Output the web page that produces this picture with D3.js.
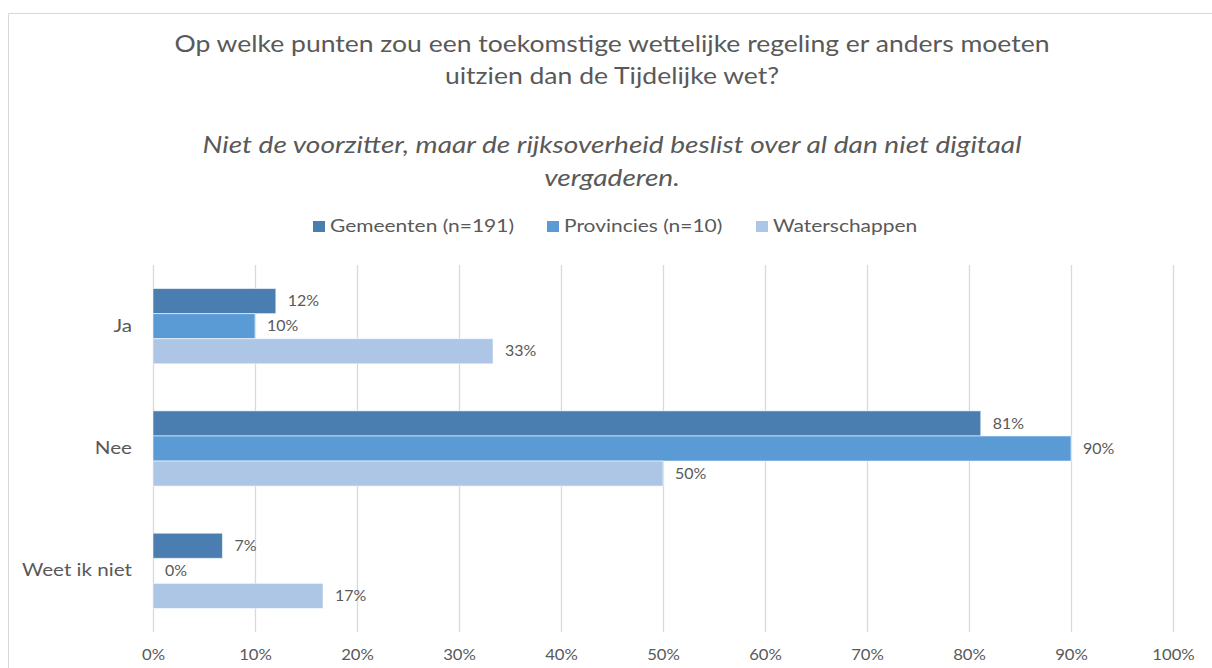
<!DOCTYPE html>
<html>
<head>
<meta charset="utf-8">
<script src="https://cdn.jsdelivr.net/npm/d3@7"></script>
<style>
  html, body { margin: 0; padding: 0; background: #fff; }
  svg { display: block; font-family: Lato, "Open Sans", sans-serif; }
</style>
</head>
<body>
<svg id="chart" width="1212" height="668"></svg>
<script>
// Survey answers per category
const categories = ["Ja", "Nee", "Weet ik niet"];
const seriesNames = ["Gemeenten (n=191)", "Provincies (n=10)", "Waterschappen"];
const gemeenten = [23 / 191 * 100, 155 / 191 * 100, 13 / 191 * 100];
const provincies = [10, 90, 0];
const waterschappen = [100 / 3, 50, 100 / 6];
const seriesColors = ["#4a7eb0", "#5b9bd5", "#adc6e6"];
const tickValues = [0, 10, 20, 30, 40, 50, 60, 70, 80, 90, 100];

const titleLines = [
  "Op welke punten zou een toekomstige wettelijke regeling er anders moeten",
  "uitzien dan de Tijdelijke wet?"
];
const subtitleLines = [
  "Niet de voorzitter, maar de rijksoverheid beslist over al dan niet digitaal",
  "vergaderen."
];

const series = [gemeenten, provincies, waterschappen];
const svg = d3.select("#chart");
const textColor = "#595959";
const gridColor = "#d9d9d9";

// Widen a group of labels horizontally by a common factor.
// If a target width is given, the factor is taken from the first label.
function widen(selection, factorOrTarget, isTarget) {
  const nodes = selection.nodes();
  let k = factorOrTarget;
  if (isTarget) k = factorOrTarget / nodes[0].getComputedTextLength();
  nodes.forEach(n => {
    const w = n.getComputedTextLength();
    if (w > 0) {
      n.setAttribute("textLength", w * k);
      n.setAttribute("lengthAdjust", "spacingAndGlyphs");
    }
  });
}

// chart area frame
svg.append("path")
  .attr("d", "M8.5,668 V13.5 H1212")
  .attr("fill", "none")
  .attr("stroke", gridColor)
  .attr("stroke-width", 1);

const plot = { left: 153, right: 1173, top: 265, bottom: 632 };

const x = d3.scaleLinear().domain([0, 100]).range([plot.left, plot.right]);
const y0 = d3.scaleBand().domain(categories).range([plot.top, plot.bottom]).paddingInner(0.385).paddingOuter(0.1925);
const y1 = d3.scaleBand().domain(seriesNames).range([0, y0.bandwidth()]);

// Title
const centerX = 612;
const title = svg.append("g").selectAll("text").data(titleLines).join("text")
  .attr("x", centerX)
  .attr("y", (d, i) => 52 + i * 32)
  .attr("text-anchor", "middle")
  .attr("font-size", 23.5)
  .attr("fill", textColor)
  .text(d => d);
widen(title, 875, true);

const subtitle = svg.append("g").selectAll("text").data(subtitleLines).join("text")
  .attr("x", centerX)
  .attr("y", (d, i) => 153 + i * 33)
  .attr("text-anchor", "middle")
  .attr("font-size", 22.5)
  .attr("font-style", "italic")
  .attr("fill", textColor)
  .text(d => d);
widen(subtitle, 819, true);

// Legend
const legendX = [313, 547, 756];
const legend = svg.append("g").selectAll("g").data(seriesNames).join("g")
  .attr("transform", (d, i) => `translate(${legendX[i]},0)`);
legend.append("rect")
  .attr("x", 0).attr("y", 221)
  .attr("width", 12).attr("height", 11)
  .attr("fill", (d, i) => seriesColors[i]);
const legendText = legend.append("text")
  .attr("x", 17).attr("y", 232)
  .attr("font-size", 18)
  .attr("fill", textColor)
  .text(d => d);
widen(legendText, 184, true);

// Vertical gridlines and percentage ticks
const xAxis = d3.axisBottom(x)
  .tickValues(tickValues)
  .tickSize(-(plot.bottom - plot.top))
  .tickFormat(d => d + "%");
const gx = svg.append("g")
  .attr("transform", `translate(0,${plot.bottom})`)
  .call(xAxis);
gx.select(".domain").remove();
gx.selectAll(".tick line").attr("stroke", gridColor).attr("stroke-width", 1.3);
const tickText = gx.selectAll(".tick text")
  .attr("fill", textColor)
  .attr("font-size", 14.5)
  .attr("font-family", "Lato, sans-serif")
  .attr("y", 28)
  .attr("dy", 0);
widen(tickText, 1.15, false);

// Category labels
const yAxis = d3.axisLeft(y0).tickSize(0).tickPadding(21);
const gy = svg.append("g").attr("transform", `translate(${plot.left},0)`).call(yAxis);
gy.select(".domain").remove();
const catText = gy.selectAll(".tick text")
  .attr("fill", textColor)
  .attr("font-size", 17)
  .attr("font-family", "Lato, sans-serif");
// factor taken from the longest label
const longest = catText.filter(d => d === "Weet ik niet").node();
widen(catText, 110 / longest.getComputedTextLength(), false);

// Bars
const rows = [];
categories.forEach((c, ci) => {
  series.forEach((s, si) => {
    rows.push({ category: c, name: seriesNames[si], value: s[ci], color: seriesColors[si] });
  });
});

const bars = svg.append("g").selectAll("g").data(rows).join("g")
  .attr("transform", d => `translate(0,${y0(d.category) + y1(d.name)})`);

bars.append("rect")
  .attr("x", x(0))
  .attr("y", 0)
  .attr("width", d => x(d.value) - x(0))
  .attr("height", y1.bandwidth())
  .attr("fill", d => d.color)
  .attr("stroke", "rgba(255,255,255,0.55)")
  .attr("stroke-width", 1);

const valueText = bars.append("text")
  .attr("x", d => x(d.value) + 12)
  .attr("y", y1.bandwidth() / 2)
  .attr("dy", "0.36em")
  .attr("font-size", 14.5)
  .attr("fill", textColor)
  .text(d => Math.round(d.value) + "%");
widen(valueText, 1.1, false);
</script>
</body>
</html>
